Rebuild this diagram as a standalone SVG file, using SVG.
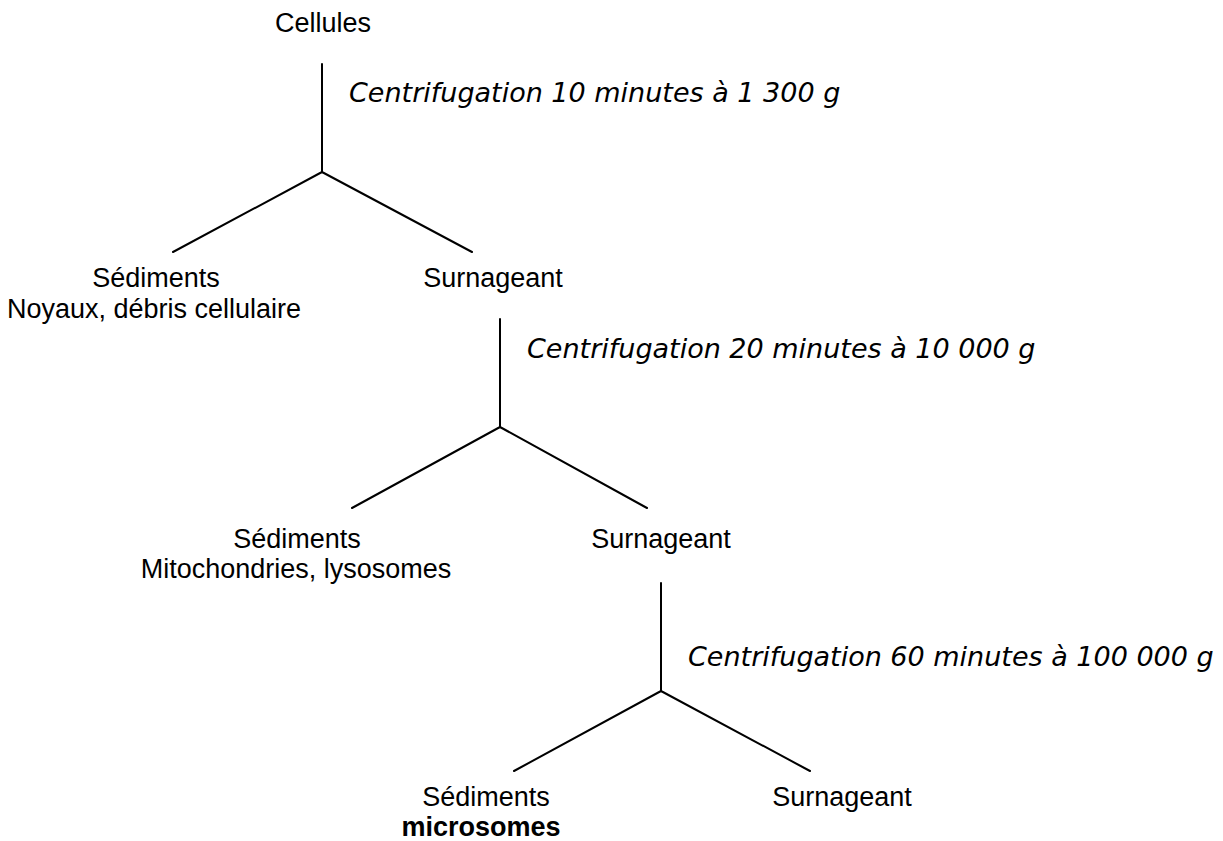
<svg xmlns="http://www.w3.org/2000/svg" width="1223" height="841" viewBox="0 0 1223 841">
<style>
.t{font-family:"Liberation Sans",Arial,sans-serif;font-size:27px;fill:#000;text-anchor:middle}
.b{font-weight:bold}
.c{font-family:"DejaVu Sans",Verdana,sans-serif;font-style:italic;font-size:27px;fill:#000}
.l{stroke:#000;stroke-width:2;fill:none;stroke-linecap:round;stroke-linejoin:round}
</style>
<rect width="1223" height="841" fill="#fff"/>
<g id="connectors">
<path class="l" d="M322,64 V172 M173,252 L322,172 L472,252"/>
<path class="l" d="M500,319 V427 M352,508 L500,427 L647,508"/>
<path class="l" d="M661,583 V691 M514,771 L661,691 L810,771"/>
</g>
<g id="cellules"><text class="t" x="323" y="32">Cellules</text></g>
<g id="step1"><text class="c" x="349" y="102">Centrifugation 10 minutes à 1 300 g</text></g>
<g id="sed1"><text class="t" x="156" y="287">Sédiments</text><text class="t" x="154" y="318">Noyaux, débris cellulaire</text></g>
<g id="sur1"><text class="t" x="493" y="287">Surnageant</text></g>
<g id="step2"><text class="c" x="527" y="358">Centrifugation 20 minutes à 10 000 g</text></g>
<g id="sed2"><text class="t" x="297" y="548">Sédiments</text><text class="t" x="296" y="578">Mitochondries, lysosomes</text></g>
<g id="sur2"><text class="t" x="661" y="548">Surnageant</text></g>
<g id="step3"><text class="c" x="688" y="666">Centrifugation 60 minutes à 100 000 g</text></g>
<g id="sed3"><text class="t" x="486" y="806">Sédiments</text><text class="t b" x="481" y="836">microsomes</text></g>
<g id="sur3"><text class="t" x="842" y="806">Surnageant</text></g>
</svg>
